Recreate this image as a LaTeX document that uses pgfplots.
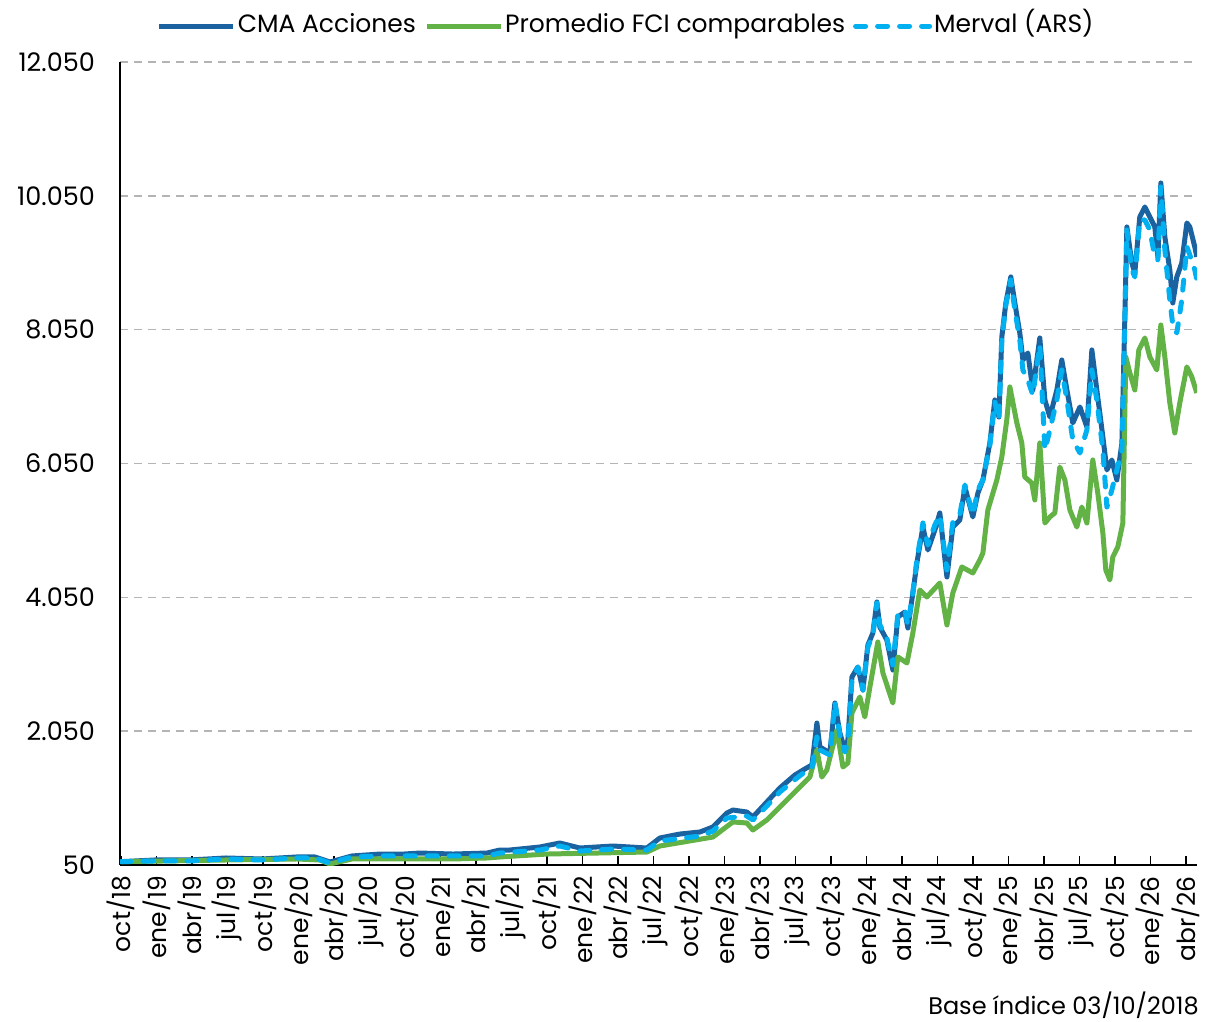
\documentclass[border=0pt]{standalone}
\usepackage{fontspec}
\setmainfont{Poppins}
\usepackage{pgfplots}
\pgfplotsset{compat=1.18}
\definecolor{cma}{RGB}{26,98,160}
\definecolor{fci}{RGB}{98,178,70}
\definecolor{merv}{RGB}{0,176,240}
\definecolor{gridc}{RGB}{180,180,180}
\begin{document}
\begin{tikzpicture}[x=1pt,y=1pt]
\useasboundingbox (0,0) rectangle (1207,-1022);
\begin{axis}[
  at={(120pt,-865pt)}, anchor=south west,
  scale only axis, width=1077pt, height=803pt,
  xmin=-0.08, xmax=90.95, ymin=50, ymax=12050,
  scaled y ticks=false, scaled x ticks=false,
  axis x line*=bottom, axis y line*=left,
  axis line style={line width=1.6pt, black, -},
  every tick/.style={black, line width=1.4pt},
  major tick length=9pt,
  xtick={0,3,...,90},
  xticklabels={oct/18,ene/19,abr/19,jul/19,oct/19,ene/20,abr/20,jul/20,oct/20,ene/21,abr/21,jul/21,oct/21,ene/22,abr/22,jul/22,oct/22,ene/23,abr/23,jul/23,oct/23,ene/24,abr/24,jul/24,oct/24,ene/25,abr/25,jul/25,oct/25,ene/26,abr/26},
  xticklabel style={rotate=90, anchor=east, inner sep=0pt, xshift=-11pt, font=\fontsize{25}{28}\selectfont},
  ytick={50,2050,4050,6050,8050,10050,12050},
  yticklabels={50,{2.050},{4.050},{6.050},{8.050},{10.050},{12.050}},
  yticklabel style={anchor=east, inner sep=0pt, xshift=-25pt, font=\fontsize{25.5}{28}\selectfont},
  y tick style={draw=none},
  ymajorgrids,
  grid style={gridc, dash pattern=on 8pt off 6pt, line width=1.6pt},
  legend style={at={(0.47,1)}, anchor=center, yshift=36pt, draw=none, fill=none,
    legend columns=3, font=\fontsize{25}{28}\selectfont,
    nodes={inner sep=2pt, text height=18pt, text depth=6pt}},
  /tikz/every even column/.append style={column sep=6pt},
  legend image code/.code={\draw[#1] (0pt,0pt) -- (74pt,0pt);},
  line join=round,
]
\addplot[cma, line width=5pt] coordinates {
(0,100)(2.87,125)(5.83,125)(8.87,155)(11.92,140)(14.87,170)(16.39,170)(17.66,95)(19.52,185)
(21.89,214)(23.92,214)(25.27,229)(28.06,214)(30.93,229)(32.03,274)(32.87,274)(35.41,319)
(37.10,379)(38.79,304)(41.58,334)(44.45,304)(45.55,454)(47.24,513)(48.93,543)(50.03,618)
(51.21,827)(51.72,872)(52.90,842)(53.41,767)(54.59,992)(55.69,1201)(56.96,1395)(57.80,1485)
(58.40,1545)(58.82,2172)(59.07,1814)(59.50,1769)(59.92,1724)(60.34,2471)(60.76,2023)
(61.19,1769)(61.44,1918)(61.78,2860)(62.28,3009)(62.71,2665)(63.13,3338)(63.55,3517)
(63.89,3981)(64.14,3607)(64.73,3413)(65.24,2964)(65.66,3756)(66.26,3831)(66.51,3592)
(66.93,4115)(67.27,4563)(67.78,5101)(68.20,4758)(68.79,5056)(69.21,5311)(69.81,4354)
(70.31,5101)(70.90,5206)(71.33,5699)(72.00,5251)(72.43,5610)(72.85,5804)(73.44,6357)
(73.86,7000)(74.20,6745)(74.45,7941)(74.79,8449)(75.21,8838)(75.55,8449)(75.97,8001)
(76.23,7597)(76.65,7702)(77.07,7149)(77.66,7926)(78.09,7000)(78.51,6745)(79.10,7149)
(79.52,7597)(79.95,7149)(80.45,6656)(81.05,6895)(81.64,6596)(82.06,7747)(82.48,7149)
(82.99,6447)(83.33,5953)(83.75,6103)(84.17,5804)(84.60,6357)(84.85,8240)(85.02,9585)
(85.44,9047)(85.69,8897)(86.11,9734)(86.54,9884)(86.96,9734)(87.38,9585)(87.64,9137)
(87.89,10242)(88.23,9435)(88.65,8942)(88.90,8449)(89.24,8838)(89.66,9047)(90.09,9645)
(90.34,9585)(90.76,9286)(90.93,9137)
};
\addlegendentry{CMA Acciones}
\addplot[fci, line width=5pt] coordinates {
(0,100)(8.87,125)(14.87,140)(16.82,125)(17.66,65)(19.52,140)(28.06,140)(30.93,155)
(32.03,170)(36.00,214)(44.45,244)(45.55,334)(50.03,468)(51.72,693)(52.90,678)(53.41,573)
(54.59,723)(55.69,917)(57.38,1216)(58.23,1365)(58.82,1769)(59.24,1365)(59.66,1470)
(60.51,2068)(61.02,1515)(61.44,1574)(61.78,2322)(62.45,2561)(62.87,2262)(63.30,2710)
(63.97,3383)(64.40,2919)(65.24,2471)(65.66,3159)(66.43,3069)(66.93,3517)(67.52,4160)
(68.11,4055)(69.21,4264)(69.81,3637)(70.31,4115)(71.07,4504)(72.00,4414)(72.59,4608)
(72.85,4713)(73.27,5356)(74.03,5804)(74.45,6148)(74.87,6701)(75.13,7194)(75.72,6656)
(76.14,6357)(76.39,5849)(76.98,5759)(77.24,5505)(77.66,6357)(78.09,5161)(78.51,5251)
(78.93,5311)(79.35,5998)(79.78,5804)(80.20,5356)(80.79,5101)(81.21,5400)(81.64,5161)
(82.14,6103)(82.56,5610)(82.99,5012)(83.24,4459)(83.58,4309)(83.83,4653)(84.25,4802)
(84.68,5161)(84.93,7642)(85.27,7403)(85.69,7149)(86.03,7747)(86.54,7926)(86.96,7642)
(87.55,7448)(87.89,8120)(88.23,7642)(88.65,6955)(89.07,6506)(89.49,6955)(90.09,7493)
(90.51,7343)(90.93,7104)
};
\addlegendentry{Promedio FCI comparables}
\addplot[merv, line width=5pt, line cap=round, dash pattern=on 10pt off 12pt] coordinates {
(0,100)(2.87,110)(5.83,110)(8.87,140)(11.92,125)(14.87,155)(16.39,155)(17.66,80)(19.52,170)
(21.89,185)(23.92,185)(28.06,185)(30.93,185)(32.03,229)(35.41,274)(37.10,334)(38.79,259)
(41.58,289)(44.45,274)(45.55,409)(48.93,483)(50.03,558)(51.21,752)(52.90,782)(53.41,723)
(54.59,932)(55.69,1141)(57.13,1350)(57.80,1440)(58.40,1500)(58.82,1963)(59.07,1769)
(59.92,1694)(60.34,2486)(60.76,1993)(61.19,1739)(61.44,1888)(61.78,2815)(62.28,3009)
(62.71,2665)(63.13,3308)(63.55,3487)(63.89,3966)(64.14,3637)(64.73,3443)(65.24,3039)
(65.66,3786)(66.26,3861)(66.51,3637)(66.93,4115)(67.27,4608)(67.78,5161)(68.20,4832)
(68.79,5131)(69.21,5281)(69.81,4459)(70.31,5176)(70.90,5281)(71.33,5729)(72.00,5281)
(72.43,5654)(72.85,5804)(73.44,6327)(73.86,6970)(74.20,6701)(74.45,7896)(74.79,8419)
(75.21,8793)(75.55,8344)(75.97,7896)(76.23,7448)(76.65,7298)(77.07,7074)(77.66,7821)
(78.09,6252)(78.51,6551)(79.10,7000)(79.52,7448)(79.95,7000)(80.45,6402)(81.05,6207)
(81.64,6551)(82.06,7448)(82.48,7000)(82.99,6252)(83.33,5400)(83.75,5654)(84.17,5953)
(84.60,6252)(84.85,8195)(85.02,9540)(85.44,8942)(85.69,8838)(86.11,9689)(86.54,9689)
(86.96,9540)(87.38,9137)(87.64,9092)(87.89,10183)(88.23,9241)(88.65,8494)(88.90,8120)
(89.24,8001)(89.66,8494)(90.09,9286)(90.34,9167)(90.76,8942)(90.93,8793)
};
\addlegendentry{Merval (ARS)}
\end{axis}
\node[anchor=base east, inner sep=0pt, font=\fontsize{24}{28}\selectfont] at (1199,-1014) {Base índice 03/10/2018};
\end{tikzpicture}
\end{document}
